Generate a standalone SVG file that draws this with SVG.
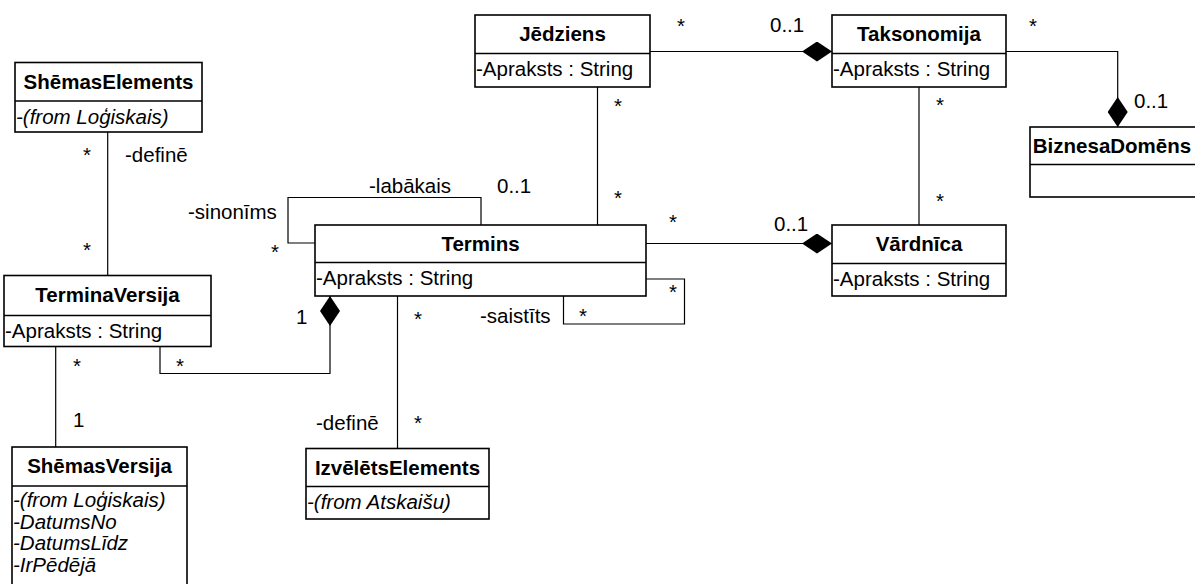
<svg xmlns="http://www.w3.org/2000/svg" width="1195" height="584" viewBox="0 0 1195 584">
  <style>
    .box { fill: #fff; stroke: #000; stroke-width: 1.6; }
    .div { stroke: #000; stroke-width: 1.6; }
    .conn { fill: none; stroke: #000; stroke-width: 1.2; }
    text { font-family: "Liberation Sans", Arial, sans-serif; font-size: 20.5px; fill: #000; }
    .title { font-weight: bold; text-anchor: middle; }
    .it { font-style: italic; }
  </style>
  <defs>
    <!-- filled diamond for composition ends; tip sits on the owning class -->
    <marker id="comp" viewBox="0 0 30 20" markerUnits="userSpaceOnUse" markerWidth="30" markerHeight="20" refX="30" refY="10" orient="auto">
      <path d="M0,10 L15,0 L30,10 L15,20 Z" fill="#000"/>
    </marker>
  </defs>
  <rect width="1195" height="584" fill="#fff"/>

  <!-- associations -->
  <g id="connectors">
    <path class="conn" d="M107.7,132 V275.5"/>
    <path class="conn" d="M597.5,87 V225"/>
    <path class="conn" d="M919,87 V225"/>
    <path class="conn" d="M55.7,346.5 V447"/>
    <path class="conn" d="M397.5,296 V448.5"/>
    <path class="conn" d="M315,243 H288 V197.5 H481 V225"/>
    <path class="conn" d="M646,279 H684.5 V324 H563.5 V296"/>
    <path class="conn" d="M650,51.5 H832" marker-end="url(#comp)"/>
    <path class="conn" d="M1006,51.5 H1117.7 V127" marker-end="url(#comp)"/>
    <path class="conn" d="M646,243.5 H832" marker-end="url(#comp)"/>
    <path class="conn" d="M160,346.5 V373.5 H330 V296" marker-end="url(#comp)"/>

    <!-- role names and multiplicities -->
    <text x="83" y="162">*</text>
    <text x="125" y="162">-definē</text>
    <text x="83" y="257">*</text>
    <text x="677" y="33">*</text>
    <text x="770" y="32">0..1</text>
    <text x="1029" y="33">*</text>
    <text x="1134" y="108">0..1</text>
    <text x="614" y="113">*</text>
    <text x="614" y="205">*</text>
    <text x="936" y="112">*</text>
    <text x="936" y="208">*</text>
    <text x="369" y="193">-labākais</text>
    <text x="497" y="193">0..1</text>
    <text x="188" y="219">-sinonīms</text>
    <text x="271" y="259">*</text>
    <text x="669" y="229">*</text>
    <text x="774" y="231">0..1</text>
    <text x="669" y="299">*</text>
    <text x="579" y="323">*</text>
    <text x="480" y="323">-saistīts</text>
    <text x="296" y="324">1</text>
    <text x="73" y="373">*</text>
    <text x="176" y="373">*</text>
    <text x="73" y="427">1</text>
    <text x="414" y="326">*</text>
    <text x="414" y="430">*</text>
    <text x="316" y="430">-definē</text>
  </g>

  <g id="ShemasElements">
    <rect class="box" x="15" y="62.5" width="187" height="69.5"/>
    <line class="div" x1="15" y1="101" x2="202" y2="101"/>
    <text class="title" x="108.5" y="88.5">ShēmasElements</text>
    <text class="it" x="16" y="123.5">-(from Loģiskais)</text>
  </g>

  <g id="Jedziens">
    <rect class="box" x="475" y="15" width="175" height="72"/>
    <line class="div" x1="475" y1="53.5" x2="650" y2="53.5"/>
    <text class="title" x="562.5" y="41">Jēdziens</text>
    <text x="476" y="76">-Apraksts : String</text>
  </g>

  <g id="Taksonomija">
    <rect class="box" x="832" y="15" width="174" height="72"/>
    <line class="div" x1="832" y1="53.5" x2="1006" y2="53.5"/>
    <text class="title" x="919" y="41">Taksonomija</text>
    <text x="833" y="76">-Apraksts : String</text>
  </g>

  <g id="BiznesaDomens">
    <rect class="box" x="1030" y="127" width="172" height="70"/>
    <line class="div" x1="1030" y1="164.5" x2="1202" y2="164.5"/>
    <text class="title" x="1112" y="153">BiznesaDomēns</text>
  </g>

  <g id="Termins">
    <rect class="box" x="315" y="225" width="331" height="71"/>
    <line class="div" x1="315" y1="262.5" x2="646" y2="262.5"/>
    <text class="title" x="480.5" y="251">Termins</text>
    <text x="316" y="285">-Apraksts : String</text>
  </g>

  <g id="Vardnica">
    <rect class="box" x="832" y="225" width="174" height="71"/>
    <line class="div" x1="832" y1="263.5" x2="1006" y2="263.5"/>
    <text class="title" x="919" y="251">Vārdnīca</text>
    <text x="833" y="286">-Apraksts : String</text>
  </g>

  <g id="TerminaVersija">
    <rect class="box" x="4" y="275.5" width="207" height="71"/>
    <line class="div" x1="4" y1="315.5" x2="211" y2="315.5"/>
    <text class="title" x="107.5" y="301.5">TerminaVersija</text>
    <text x="5" y="338">-Apraksts : String</text>
  </g>

  <g id="ShemasVersija">
    <rect class="box" x="12" y="447" width="175" height="145"/>
    <line class="div" x1="12" y1="486" x2="187" y2="486"/>
    <text class="title" x="99.5" y="473">ShēmasVersija</text>
    <text class="it" x="13" y="507">-(from Loģiskais)</text>
    <text class="it" x="13" y="528.5">-DatumsNo</text>
    <text class="it" x="13" y="550">-DatumsLīdz</text>
    <text class="it" x="13" y="571.5">-IrPēdējā</text>
  </g>

  <g id="IzveletsElements">
    <rect class="box" x="306" y="448.5" width="183" height="70.5"/>
    <line class="div" x1="306" y1="486.5" x2="489" y2="486.5"/>
    <text class="title" x="397.5" y="474.5">IzvēlētsElements</text>
    <text class="it" x="307" y="509">-(from Atskaišu)</text>
  </g>
</svg>
